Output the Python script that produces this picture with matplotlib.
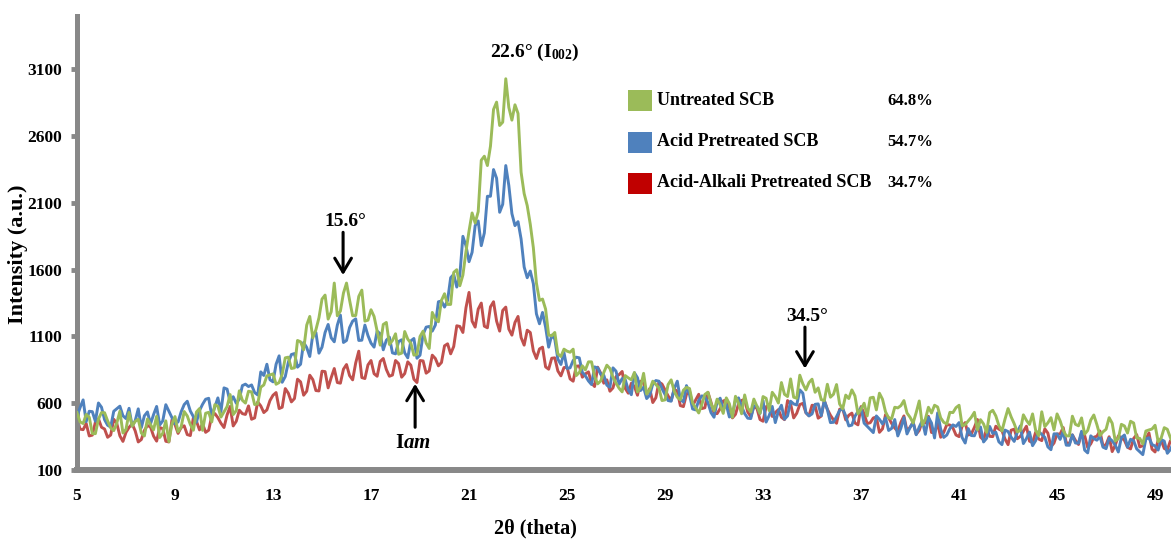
import matplotlib
matplotlib.use("Agg")
import matplotlib.pyplot as plt
import numpy as np
from matplotlib.patches import Rectangle

plt.rcParams["font.family"] = ["Liberation Serif", "DejaVu Serif"]
plt.rcParams["font.weight"] = "bold"
plt.rcParams["mathtext.fontset"] = "custom"
plt.rcParams["mathtext.rm"] = "Liberation Serif:bold"
plt.rcParams["mathtext.bf"] = "Liberation Serif:bold"
plt.rcParams["mathtext.it"] = "Liberation Serif:bold:italic"
plt.rcParams["mathtext.default"] = "rm"

# 2-theta scan, 0.125 deg steps; each series is stored as the readings on the
# quarter-degree points (_q) and the readings half-way between them (_h)
two_theta = np.arange(5.0, 49.9, 0.125)

untreated_q = [
    530, 448, 495, 372, 530, 468, 395, 540, 405, 428, 480, 355, 440, 502, 375, 312,
    500, 422, 505, 398, 560, 525, 460, 578, 535, 665, 545, 622, 690, 590, 720, 805,
    820, 755, 940, 860, 1070, 1000, 1250, 1150, 1380, 1230, 1500, 1290, 1500, 1255, 1400, 1215,
    1300, 1140, 1190, 1040, 1120, 975, 1080, 960, 1100, 1050, 1280, 1210, 1420, 1340, 1600, 1560,
    1890, 1950, 2420, 2380, 2800, 2680, 3030, 2720, 2770, 2170, 1940, 1500, 1380, 1110, 1130, 950,
    990, 1005, 830, 850, 910, 745, 830, 860, 750, 685, 790, 830, 720, 668, 765, 715,
    625, 775, 645, 698, 710, 565, 590, 682, 545, 588, 640, 495, 600, 662, 535, 578,
    650, 545, 650, 755, 650, 645, 810, 700, 780, 715, 620, 645, 740, 558, 635, 655,
    555, 505, 645, 675, 535, 485, 565, 620, 495, 530, 435, 570, 585, 490, 445, 530,
    585, 440, 495, 400, 445, 530, 505, 392, 560, 447, 395, 472, 520, 357, 425, 492,
    520, 397, 355, 442, 490, 396, 512, 358, 405, 450, 335, 430, 465, 340, 295, 400,
    435, 340, 405, 300,
]
untreated_h = [
    460, 516, 373, 481, 529, 416, 452, 377, 531, 464, 377, 482, 401, 343, 468, 446,
    386, 538, 441, 534, 397, 532, 589, 496, 575, 515, 693, 601, 685, 595, 737, 812,
    742, 817, 945, 865, 1060, 1185, 1090, 1240, 1410, 1285, 1255, 1425, 1372, 1257, 1447, 1222,
    1250, 1035, 1205, 1070, 967, 1137, 1050, 965, 1140, 1010, 1230, 1370, 1340, 1580, 1480, 1735,
    2025, 2035, 2450, 2525, 2855, 2705, 2815, 2835, 2330, 2080, 1765, 1370, 1305, 1105, 970, 1005,
    982, 807, 880, 910, 802, 767, 885, 795, 712, 807, 775, 685, 824, 701, 740, 620,
    740, 690, 626, 719, 602, 527, 666, 598, 631, 524, 597, 652, 521, 563, 631, 524,
    637, 682, 602, 667, 782, 637, 745, 755, 682, 627, 742, 667, 594, 661, 700, 520,
    600, 640, 550, 630, 490, 570, 582, 527, 452, 617, 482, 527, 572, 457, 532, 567,
    432, 467, 532, 477, 382, 547, 433, 481, 498, 386, 513, 441, 398, 536, 453, 401,
    468, 356, 503, 431, 368, 474, 440, 386, 492, 317, 442, 377, 452, 337, 392, 407,
    312, 417, 342, 387,
]

acid_q = [
    500, 625, 540, 465, 570, 435, 540, 578, 485, 430, 558, 506, 445, 576, 468, 540,
    445, 535, 615, 500, 545, 630, 505, 640, 715, 608, 600, 732, 725, 680, 835, 892,
    760, 955, 800, 965, 870, 1055, 950, 1130, 1020, 1190, 1060, 1260, 1070, 1215, 1070, 1185,
    1050, 1140, 1000, 1095, 970, 1075, 940, 1085, 960, 1170, 1140, 1360, 1320, 1540, 1470, 1850,
    1660, 1930, 1780, 2150, 2350, 2030, 2380, 2020, 1960, 1620, 1590, 1270, 1280, 1020, 1080, 890,
    860, 920, 940, 805, 740, 865, 810, 720, 840, 785, 700, 828, 695, 635, 745, 765,
    665, 615, 765, 610, 665, 550, 655, 605, 495, 638, 590, 515, 640, 522, 485, 578,
    620, 508, 455, 585, 505, 595, 700, 530, 520, 595, 620, 455, 500, 560, 430, 502,
    565, 428, 380, 480, 490, 412, 355, 492, 418, 364, 470, 495, 340, 406, 362, 438,
    455, 302, 358, 414, 310, 426, 383, 290, 388, 314, 430, 336, 282, 388, 345, 252,
    370, 388, 285, 302, 390, 228, 335, 352, 260, 318, 235, 362, 330, 258, 215, 342,
    280, 328, 225, 302,
]
acid_h = [
    567, 462, 537, 602, 477, 422, 559, 506, 562, 469, 417, 535, 515, 437, 589, 492,
    460, 590, 542, 457, 592, 637, 572, 537, 706, 649, 631, 743, 737, 662, 808, 776,
    892, 757, 907, 972, 892, 1017, 1115, 975, 1130, 1090, 1185, 1055, 1167, 1232, 1072, 1107,
    1020, 1120, 1072, 977, 1062, 977, 1067, 937, 1115, 1175, 1185, 1365, 1370, 1565, 1560, 1780,
    1730, 1965, 1875, 2150, 2285, 2090, 2230, 1930, 1830, 1540, 1495, 1195, 1170, 1110, 930, 980,
    865, 945, 832, 767, 872, 817, 735, 865, 742, 777, 664, 791, 720, 660, 770, 710,
    620, 710, 627, 732, 557, 622, 650, 530, 611, 554, 497, 622, 576, 488, 581, 524,
    459, 576, 540, 480, 615, 587, 675, 505, 592, 507, 552, 457, 545, 505, 436, 538,
    451, 404, 505, 445, 396, 478, 413, 370, 456, 422, 367, 452, 528, 344, 410, 426,
    343, 410, 356, 422, 338, 374, 311, 399, 346, 382, 298, 384, 320, 366, 273, 371,
    329, 286, 363, 301, 249, 356, 323, 271, 339, 286, 343, 271, 319, 236, 333, 291,
    249, 316, 253, 311,
]

acid_alkali_q = [
    490, 402, 355, 458, 420, 345, 480, 356, 382, 446, 310, 396, 422, 316, 410, 310,
    440, 418, 365, 492, 400, 382, 505, 492, 418, 576, 465, 522, 580, 490, 580, 550,
    660, 560, 710, 610, 780, 660, 810, 695, 840, 715, 860, 750, 890, 775, 990, 785,
    920, 802, 935, 802, 920, 795, 910, 780, 920, 825, 960, 880, 1030, 970, 1180, 1130,
    1430, 1170, 1350, 1165, 1360, 1140, 1320, 1110, 1250, 1035, 1130, 935, 1020, 855, 940, 805,
    870, 765, 880, 820, 750, 870, 750, 690, 800, 838, 675, 725, 765, 665, 605, 758,
    700, 620, 690, 575, 690, 625, 560, 682, 525, 560, 625, 490, 595, 628, 500, 562,
    465, 592, 530, 495, 620, 490, 590, 528, 585, 488, 620, 510, 450, 560, 510, 452,
    575, 448, 490, 382, 515, 448, 390, 505, 420, 368, 465, 502, 380, 345, 440, 415,
    350, 455, 370, 478, 325, 352, 428, 394, 290, 406, 352, 428, 305, 332, 408, 274,
    370, 418, 295, 322, 380, 268, 345, 392, 290, 238, 355, 322, 258, 365, 282, 378,
    235, 322, 250, 338,
]
acid_alkali_h = [
    406, 448, 361, 484, 407, 362, 448, 314, 419, 393, 328, 434, 354, 418, 315, 475,
    374, 431, 358, 466, 446, 398, 523, 450, 512, 430, 548, 516, 480, 610, 530, 620,
    680, 570, 675, 635, 760, 690, 777, 692, 837, 792, 755, 855, 807, 902, 792, 887,
    821, 913, 853, 811, 897, 822, 885, 755, 917, 842, 935, 905, 1045, 1025, 1175, 1315,
    1215, 1305, 1177, 1322, 1215, 1295, 1155, 1205, 1092, 1147, 992, 1007, 872, 937, 842, 867,
    782, 877, 795, 835, 725, 825, 775, 715, 814, 711, 750, 660, 750, 710, 641, 744,
    655, 705, 582, 667, 582, 667, 566, 608, 522, 617, 572, 517, 621, 534, 576, 478,
    573, 501, 552, 477, 595, 525, 599, 506, 581, 504, 555, 475, 555, 475, 526, 438,
    521, 454, 496, 408, 491, 414, 457, 392, 459, 396, 453, 381, 447, 382, 437, 362,
    427, 362, 419, 346, 413, 350, 406, 332, 398, 334, 390, 316, 383, 320, 376, 302,
    369, 306, 363, 291, 359, 296, 353, 281, 349, 286, 343, 270, 336, 273, 330, 256,
    323, 261, 319, 247,
]

series_labels = ["Untreated SCB", "Acid Pretreated SCB", "Acid-Alkali Pretreated SCB"]
crystallinity = ["64.8%", "54.7%", "34.7%"]
line_colors = ["#9BBB59", "#4F81BD", "#C0504D"]
swatch_colors = ["#9BBB59", "#4F81BD", "#C00000"]

x_ticks = [5, 9, 13, 17, 21, 25, 29, 33, 37, 41, 45, 49]
y_ticks = [100, 600, 1100, 1600, 2100, 2600, 3100]


def merge(q, h):
    return np.column_stack([q, h]).ravel()


untreated = merge(untreated_q, untreated_h)
acid = merge(acid_q, acid_h)
acid_alkali = merge(acid_alkali_q, acid_alkali_h)

fig = plt.figure(figsize=(11.71, 5.42), dpi=100)
ax = fig.add_axes([77 / 1171, 72 / 542, 1094 / 1171, 454 / 542])

# red first, green on top
ax.plot(two_theta, acid_alkali, color=line_colors[2], lw=2.1, zorder=2)
ax.plot(two_theta, acid, color=line_colors[1], lw=2.1, zorder=3)
ax.plot(two_theta, untreated, color=line_colors[0], lw=2.1, zorder=4)

ax.set_xlim(5, 49.65)
ax.set_ylim(100, 3500)
ax.set_xticks(x_ticks)
ax.set_yticks(y_ticks)
ax.tick_params(axis="x", length=0, pad=13, labelsize=12.5)
ax.tick_params(axis="y", length=4.5, width=3.5, color="#888888", direction="out",
               pad=6, labelsize=12.5)
for lab in ax.get_xticklabels() + ax.get_yticklabels():
    lab.set_fontweight("bold")

for side in ["top", "right"]:
    ax.spines[side].set_visible(False)
ax.spines["left"].set_color("#888888")
ax.spines["left"].set_linewidth(3.6)
ax.spines["bottom"].set_color("#888888")
ax.spines["bottom"].set_linewidth(4.3)

fig.text(18 / 1171, 1 - 254 / 542, "Intensity (a.u.)", rotation=90,
         ha="center", va="center", fontsize=16, fontweight="bold")
fig.text(535 / 1171, 1 - 528 / 542, "2θ (theta)", ha="center", va="center",
         fontsize=14.5, fontweight="bold")

# peak markers
arrow = dict(arrowstyle="->, head_length=0.5, head_width=0.3", lw=2.2,
             color="black", mutation_scale=20, shrinkA=0, shrinkB=0)
ax.annotate("", xy=(15.86, 1560), xytext=(15.86, 1880), arrowprops=arrow)
ax.text(15.94, 1960, "15.6°", ha="center", va="center", fontsize=14)
ax.annotate("", xy=(34.71, 860), xytext=(34.71, 1170), arrowprops=arrow)
ax.text(34.8, 1250, "34.5°", ha="center", va="center", fontsize=14)
ax.annotate("", xy=(18.8, 745), xytext=(18.8, 420), arrowprops=arrow)
ax.text(18.72, 300, r"I$\mathit{am}$", ha="center", va="center", fontsize=15)
ax.text(23.69, 3225, r"22.6° (I$_{002}$)", ha="center", va="center", fontsize=14)

# legend with crystallinity index
sw_y = [0.7907, 0.6982, 0.6079]
txt_y = [0.8128, 0.7225, 0.6322]
for lab, pct, col, y0, yt in zip(series_labels, crystallinity, swatch_colors, sw_y, txt_y):
    ax.add_patch(Rectangle((0.5037, y0), 0.0219, 0.0463, transform=ax.transAxes,
                           facecolor=col, edgecolor="none", clip_on=False))
    ax.text(0.5302, yt, lab, transform=ax.transAxes, ha="left", va="center", fontsize=13)
    ax.text(0.7404, yt, pct, transform=ax.transAxes, ha="left", va="center", fontsize=12)

fig.savefig("out.png", dpi=100)
